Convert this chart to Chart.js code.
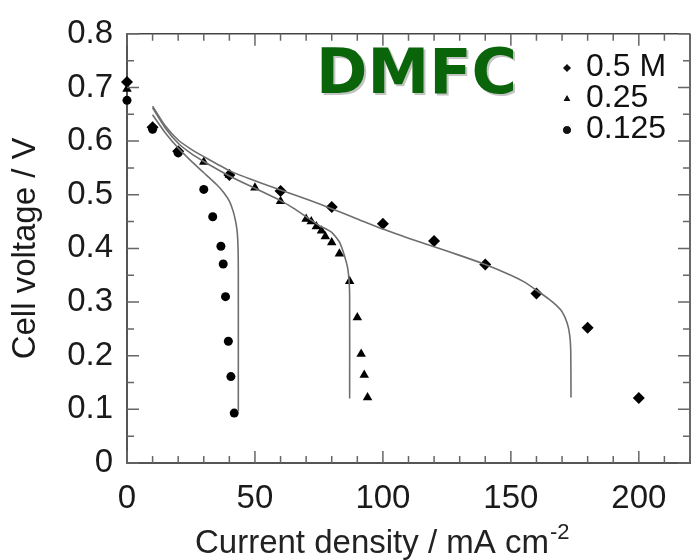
<!DOCTYPE html>
<html lang="en">
<head>
<meta charset="UTF-8">
<script src="https://cdn.jsdelivr.net/npm/chart.js@4.4.0/dist/chart.umd.min.js"></script>
<title>DMFC polarisation</title>
<style>
  body { margin: 0; background: #fff; }
  #wrap { width: 698px; height: 560px; }
</style>
</head>
<body>
<div id="wrap"><canvas id="dmfc" width="698" height="560"></canvas></div>
<script>
// methanol concentrations (legend)
const concLabels = ['0.5 M', '0.25', '0.125'];

// measured points, current density (mA cm-2) / cell voltage (V)
const x05 = [0, 10, 20, 40, 60, 80, 100, 120, 140, 160, 180, 200];
const y05 = [0.710, 0.626, 0.581, 0.537, 0.507, 0.477, 0.446, 0.414, 0.370, 0.316, 0.252, 0.121];

const x025 = [0, 10, 20, 30, 40, 50, 60, 70, 72, 74, 76, 77.5, 80, 83, 87, 90, 91.5, 92.7, 94];
const y025 = [0.697, 0.626, 0.581, 0.561, 0.537, 0.513, 0.488, 0.455, 0.450, 0.441, 0.433, 0.422, 0.411, 0.390, 0.339, 0.271, 0.203, 0.164, 0.122];

const x0125 = [0, 10, 20, 30, 33.5, 36.7, 37.6, 38.5, 39.6, 40.6, 41.9];
const y0125 = [0.676, 0.622, 0.578, 0.510, 0.459, 0.404, 0.371, 0.310, 0.227, 0.161, 0.093];

// model curves
const fitX05 = [10, 15, 20, 25, 30, 40, 50, 60, 70, 80, 90, 100, 110, 120, 130, 140, 150, 155, 160, 165, 168, 170, 172, 173, 173.4, 173.5];
const fitY05 = [0.665, 0.628, 0.602, 0.585, 0.571, 0.545, 0.526, 0.509, 0.492, 0.474, 0.455, 0.436, 0.419, 0.403, 0.387, 0.370, 0.350, 0.338, 0.322, 0.305, 0.293, 0.282, 0.261, 0.238, 0.21, 0.122];

const fitX025 = [10, 15, 20, 25, 30, 40, 50, 60, 65, 70, 75, 80, 83, 85, 86.2, 86.8, 87, 87];
const fitY025 = [0.662, 0.624, 0.596, 0.577, 0.562, 0.535, 0.512, 0.489, 0.475, 0.459, 0.443, 0.430, 0.412, 0.386, 0.364, 0.338, 0.31, 0.12];

const fitX0125 = [10, 15, 20, 25, 30, 35, 38, 40, 41.5, 42.5, 43.1, 43.4, 43.5, 43.5];
const fitY0125 = [0.649, 0.615, 0.587, 0.563, 0.541, 0.519, 0.503, 0.488, 0.469, 0.449, 0.429, 0.40, 0.36, 0.097];

const markerStyles = ['rectRot', 'triangle', 'circle'];
const markerSizes = [6, 5.5, 4.5];

function pts(xs, ys) {
  return xs.map((x, i) => ({ x: x, y: ys[i] }));
}

const FONT = "'Liberation Sans', Arial, sans-serif";

const fitSet = (xs, ys) => ({
  data: pts(xs, ys),
  showLine: true,
  borderColor: '#6e6e6e',
  borderWidth: 1.6,
  pointRadius: 0,
  tension: 0.2,
  fill: false
});
const pointSet = (xs, ys, k) => ({
  label: concLabels[k],
  data: pts(xs, ys),
  showLine: false,
  clip: false,
  pointStyle: markerStyles[k],
  pointRadius: markerSizes[k],
  backgroundColor: '#000',
  borderColor: '#000',
  borderWidth: 0
});

// box, inward ticks, legend, title text
const decor = {
  id: 'decor',
  afterDraw(chart) {
    const ctx = chart.ctx;
    const a = chart.chartArea;
    const xs = chart.scales.x, ys = chart.scales.y;
    ctx.save();

    ctx.strokeStyle = '#444';
    ctx.lineWidth = 1.6;
    ctx.beginPath();
    ctx.moveTo(a.left, a.top); ctx.lineTo(a.right, a.top);
    ctx.moveTo(a.right, a.top); ctx.lineTo(a.right, a.bottom);
    ctx.stroke();

    ctx.strokeStyle = '#666';
    ctx.lineWidth = 1.5;
    ctx.beginPath();
    for (let v = 0; v <= 220; v += 10) {
      const px = xs.getPixelForValue(v);
      const len = v % 50 === 0 ? 12 : 7;
      ctx.moveTo(px, a.bottom); ctx.lineTo(px, a.bottom - len);
      ctx.moveTo(px, a.top); ctx.lineTo(px, a.top + len);
    }
    for (let k = 0; k <= 16; k++) {
      const py = ys.getPixelForValue(k * 0.05);
      const len = k % 2 === 0 ? 12 : 7;
      ctx.moveTo(a.left, py); ctx.lineTo(a.left + len, py);
      ctx.moveTo(a.right, py); ctx.lineTo(a.right - len, py);
    }
    ctx.stroke();

    // legend
    ctx.fillStyle = '#111';
    ctx.font = '32px ' + FONT;
    ctx.textBaseline = 'middle';
    ctx.textAlign = 'left';
    const rows = [67, 98, 129];
    concLabels.forEach((lab, k) => {
      Chart.helpers.drawPoint(ctx, {
        pointStyle: markerStyles[k], radius: 3.8, rotation: 0, borderWidth: 0
      }, 567, rows[k] + 1);
      ctx.fill();
      ctx.fillText(lab, 586, rows[k]);
    });

    // DMFC label
    ctx.font = 'bold 62px "DejaVu Sans", Verdana, sans-serif';
    ctx.textBaseline = 'alphabetic';
    ctx.fillStyle = '#c4c4c4';
    ctx.fillText('DMFC', 318, 95);
    ctx.fillStyle = '#0a650a';
    ctx.fillText('DMFC', 316, 93);

    // x title with superscript
    const main = 'Current density / mA cm';
    ctx.fillStyle = '#222';
    ctx.font = '33px ' + FONT;
    const w1 = ctx.measureText(main).width;
    const x0 = 195;
    ctx.fillText(main, x0, 553);
    ctx.font = '22px ' + FONT;
    ctx.fillText('-2', x0 + w1 + 1, 539);

    ctx.restore();
  }
};

const ctx = document.getElementById('dmfc').getContext('2d');
const chart = new Chart(ctx, {
  type: 'scatter',
  data: {
    datasets: [
      fitSet(fitX05, fitY05),
      fitSet(fitX025, fitY025),
      fitSet(fitX0125, fitY0125),
      pointSet(x05, y05, 0),
      pointSet(x025, y025, 1),
      pointSet(x0125, y0125, 2)
    ]
  },
  options: {
    responsive: false,
    animation: false,
    layout: { padding: { left: 0, top: 23, right: 8, bottom: 0 } },
    plugins: { legend: { display: false }, tooltip: { enabled: false } },
    scales: {
      x: {
        type: 'linear',
        min: 0, max: 220,
        afterFit: s => { s.height = 97; },
        grid: { display: false, drawTicks: false },
        border: { display: true, color: '#555', width: 2 },
        ticks: {
          stepSize: 50, includeBounds: false, padding: 16,
          color: '#1a1a1a', font: { family: FONT, size: 33 }
        }
      },
      y: {
        min: 0, max: 0.8,
        afterFit: s => { s.width = 127; },
        grid: { display: false, drawTicks: false },
        border: { display: true, color: '#555', width: 2 },
        ticks: {
          stepSize: 0.1, padding: 14,
          color: '#1a1a1a', font: { family: FONT, size: 33 },
          callback: v => String(+v.toFixed(1))
        },
        title: {
          display: true, text: 'Cell voltage / V',
          color: '#1a1a1a', font: { family: FONT, size: 33, lineHeight: 1.2 },
          padding: { top: 6, bottom: 0 }
        }
      }
    }
  },
  plugins: [decor]
});
</script>
</body>
</html>
